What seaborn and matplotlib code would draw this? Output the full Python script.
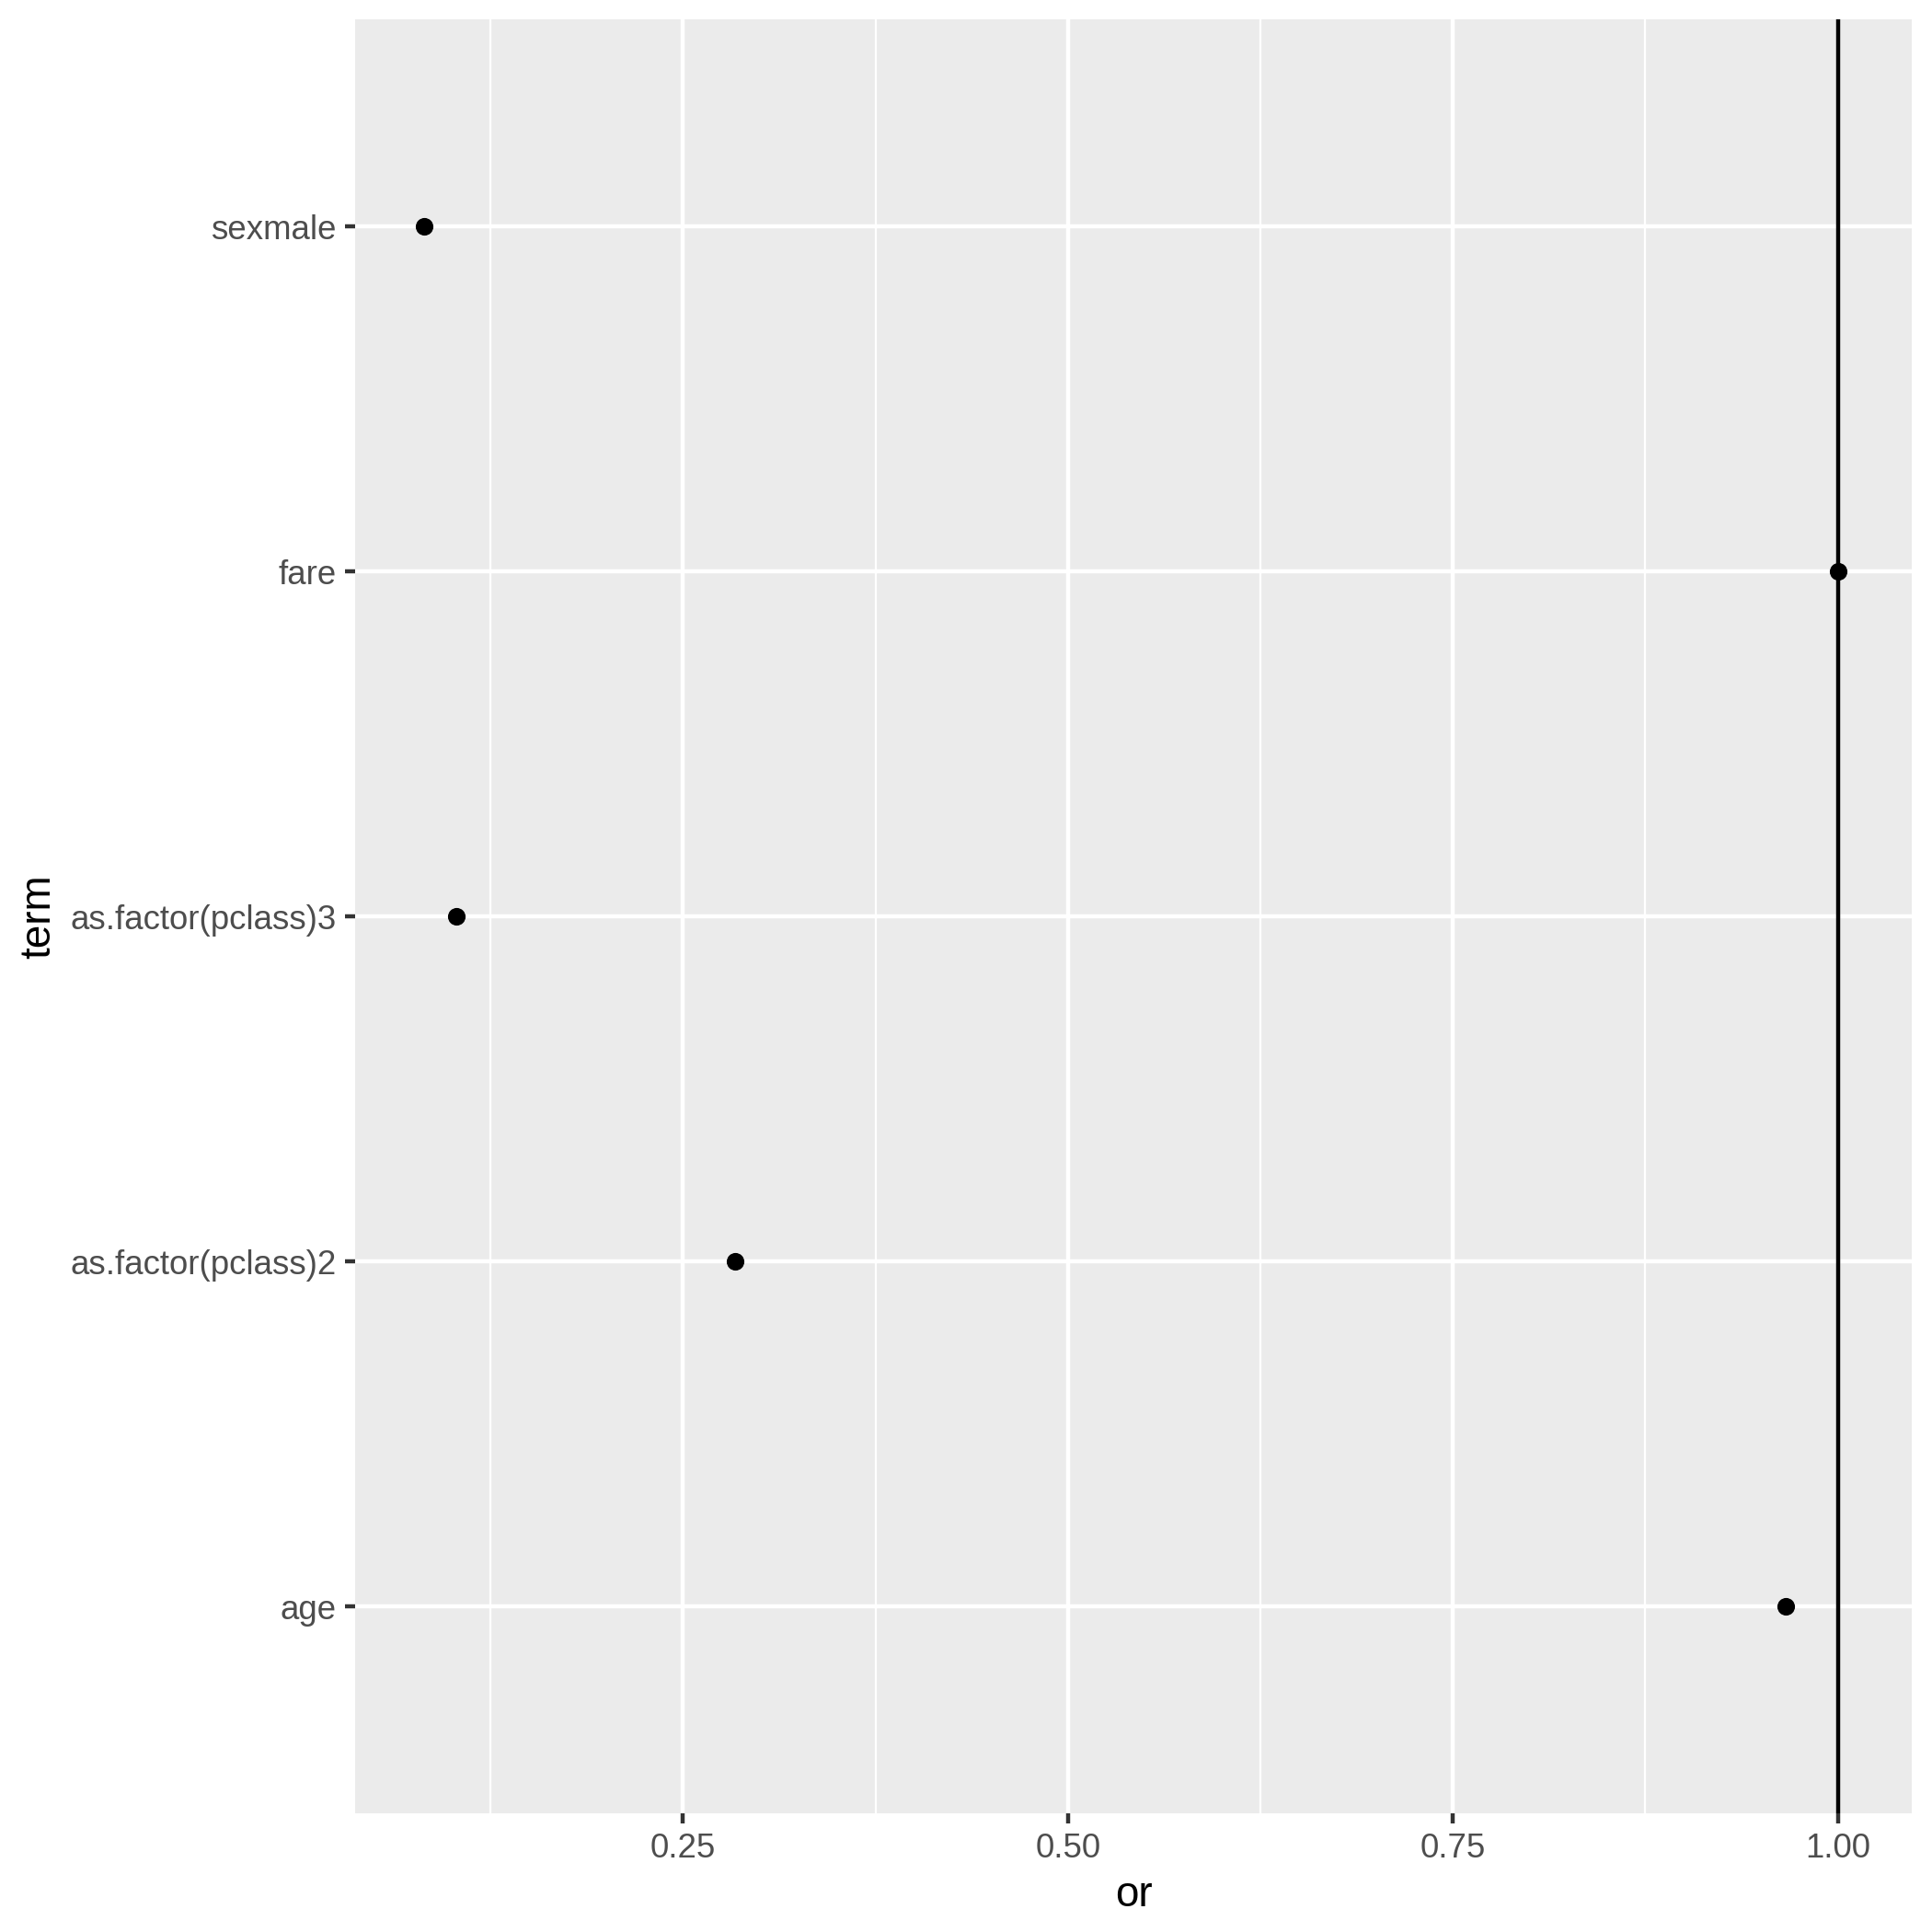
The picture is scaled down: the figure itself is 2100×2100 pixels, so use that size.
import pandas as pd
import seaborn as sns
import matplotlib.pyplot as plt

# Values (odds ratios)
terms = ['sexmale', 'fare', 'as.factor(pclass)3', 'as.factor(pclass)2', 'age']
odds_ratios = [0.082, 1.0, 0.103, 0.284, 0.966]
x_ticks = [0.25, 0.50, 0.75, 1.00]
x_minor = [0.125, 0.375, 0.625, 0.875]

df = pd.DataFrame({'term': terms, 'or': odds_ratios})

sns.set_theme(style="darkgrid")
plt.rcParams['font.family'] = ['Liberation Sans', 'DejaVu Sans']

fig = plt.figure(figsize=(7, 7), dpi=300)
ax = fig.add_axes([0.1838, 0.0614, 0.9895 - 0.1838, 0.990 - 0.0614])
ax.set_facecolor('#EBEBEB')

# grid (ggplot grey theme)
ax.grid(False)
for x in x_minor:
    ax.axvline(x, color='white', linewidth=0.53, zorder=0)
for x in x_ticks:
    ax.axvline(x, color='white', linewidth=1.07, zorder=0)
for i in range(len(terms)):
    ax.axhline(i, color='white', linewidth=1.07, zorder=0)

sns.stripplot(data=df, x='or', y='term', order=terms, jitter=False,
              color='black', size=4.6, linewidth=0, ax=ax, zorder=3)

ax.axvline(1, color='black', linewidth=1.07, zorder=2)

ax.set_xlim(0.037, 1.048)
ax.set_ylim(len(terms) - 1 + 0.6, -0.6)
ax.set_xticks(x_ticks)
ax.set_xticklabels(['0.25', '0.50', '0.75', '1.00'])

for s in ax.spines.values():
    s.set_visible(False)
ax.tick_params(axis='both', which='major', length=2.75, width=1.07,
               color='#333333', labelcolor='#4D4D4D', labelsize=8.8, pad=2.2,
               bottom=True, left=True)
ax.set_xlabel('or', fontsize=11, color='black', labelpad=2.75)
ax.set_ylabel('term', fontsize=11, color='black', labelpad=2.75)

fig.savefig('out.png', dpi=300, facecolor='white')
plt.close()
